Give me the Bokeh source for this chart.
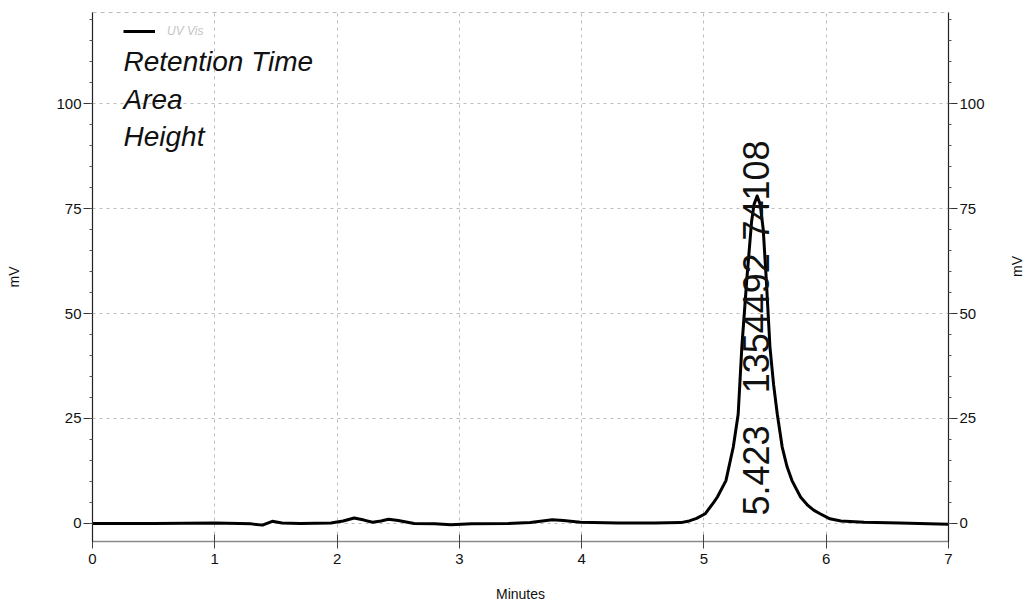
from bokeh.plotting import figure
from bokeh.models import (LinearAxis, FixedTicker, Range1d, Label, Legend, LegendItem,
                          ColumnDataSource)
from bokeh.embed import file_html
from bokeh.resources import INLINE
from bokeh.core.properties import value
import numpy as np

# ---- data ----
time_min = [0.00, 0.50, 1.00, 1.30, 1.39, 1.47, 1.55, 1.70, 1.95, 2.05, 2.14, 2.22,
            2.29, 2.36, 2.42, 2.50, 2.63, 2.80, 2.93, 3.10, 3.40, 3.58, 3.68, 3.76,
            3.85, 3.99, 4.30, 4.60, 4.81, 4.88, 4.94, 5.01, 5.08, 5.11, 5.18, 5.24,
            5.28, 5.31, 5.35, 5.39, 5.41, 5.435, 5.46, 5.485, 5.51, 5.54, 5.57, 5.60,
            5.64, 5.68, 5.72, 5.79, 5.85, 5.90, 5.95, 6.03, 6.12, 6.31, 6.60, 7.00]
signal_mv = [0.0, 0.0, 0.1, -0.1, -0.4, 0.5, 0.1, 0.0, 0.1, 0.6, 1.3, 0.8,
             0.3, 0.6, 1.0, 0.7, 0.0, -0.1, -0.3, -0.1, 0.0, 0.2, 0.6, 0.9,
             0.7, 0.3, 0.1, 0.1, 0.2, 0.6, 1.2, 2.3, 5.0, 6.3, 10.2, 18.2,
             26.0, 42.0, 57.9, 72.0, 76.0, 78.0, 76.0, 70.0, 58.0, 42.0, 33.0, 26.0,
             18.2, 13.5, 10.2, 6.3, 4.3, 3.1, 2.3, 1.1, 0.6, 0.3, 0.1, -0.2]

series_name = "UV Vis"
x_ticks = [0, 1, 2, 3, 4, 5, 6, 7]
y_ticks = [0, 25, 50, 75, 100]
y_minor = [-5, 0, 5, 10, 15, 20, 25, 30, 35, 40, 45, 50, 55, 60, 65, 70, 75, 80,
           85, 90, 95, 100, 105, 110, 115, 120]
info_lines = ["Retention Time", "Area", "Height"]
peak_rt = [5.423]
peak_texts = ["5.423", "1354492", "74108"]
peak_text_y = [1.9, 31.0, 67.4]
x_title = "Minutes"
y_title = "mV"

FONT = "Liberation Sans"

p = figure(width=1036, height=606, output_backend="svg", toolbar_location=None,
           x_range=Range1d(0, 7), y_range=Range1d(-4.3, 121.7),
           min_border_left=92, min_border_right=88, min_border_top=12,
           min_border_bottom=65, background_fill_color="white",
           border_fill_color="white")
p.outline_line_color = "#bbbbbb"
p.outline_line_dash = "4 4"
p.outline_line_width = 1

# grid
p.xgrid.ticker = FixedTicker(ticks=x_ticks)
p.ygrid.ticker = FixedTicker(ticks=y_ticks)
for g in (p.xgrid, p.ygrid):
    g.grid_line_color = "#bdbdbd"
    g.grid_line_dash = "3 4"
    g.grid_line_width = 1

# bottom axis
xa = p.xaxis[0]
xa.ticker = FixedTicker(ticks=x_ticks)
xa.axis_label = x_title
xa.axis_line_color = "#8a8a8a"
xa.axis_line_width = 1.5
xa.major_tick_in = 7
xa.major_tick_out = 7
xa.major_tick_line_color = "#444444"
xa.minor_tick_line_color = None
xa.major_label_standoff = 5
xa.major_label_text_font = FONT
xa.major_label_text_font_size = "15px"
xa.major_label_text_color = "#111111"
xa.axis_label_text_font = FONT
xa.axis_label_text_font_size = "14px"
xa.axis_label_text_font_style = "normal"
xa.axis_label_text_color = "#111111"
xa.axis_label_standoff = 19

def style_y(ax, label, standoff):
    ax.ticker = FixedTicker(ticks=y_ticks, minor_ticks=y_minor)
    ax.axis_label = label
    ax.axis_line_color = "#222222"
    ax.axis_line_width = 1.2
    ax.major_tick_in = 0
    ax.major_tick_out = 9
    ax.minor_tick_in = 0
    ax.minor_tick_out = 3
    ax.major_tick_line_color = "#333333"
    ax.minor_tick_line_color = "#555555"
    ax.major_label_standoff = 2
    ax.major_label_text_font = FONT
    ax.major_label_text_font_size = "15px"
    ax.major_label_text_color = "#111111"
    ax.axis_label_text_font = FONT
    ax.axis_label_text_font_size = "14px"
    ax.axis_label_text_font_style = "normal"
    ax.axis_label_text_color = "#111111"
    ax.axis_label_standoff = standoff

style_y(p.yaxis[0], y_title, 31)
ra = LinearAxis()
style_y(ra, y_title, 29)
if hasattr(ra, "axis_label_orientation"):
    ra.axis_label_orientation = np.pi / 2   # read bottom-to-top, like the left title
p.add_layout(ra, "right")

# trace
src = ColumnDataSource(dict(t=time_min, v=signal_mv))
trace = p.line("t", "v", source=src, line_color="black", line_width=3,
               line_join="round")

# legend
leg = Legend(items=[LegendItem(label=series_name, renderers=[trace])],
             location=(31, 503), background_fill_alpha=0, border_line_color=None,
             padding=0, margin=0, glyph_width=32, glyph_height=12,
             label_standoff=12, label_text_font=FONT, label_text_font_size="12px",
             label_text_color="#c4c4c4", label_text_font_style="italic")
p.add_layout(leg)

# info text block (top left)
for i, txt in enumerate(info_lines):
    p.add_layout(Label(x=31, y=480 - i * 37.5, x_units="screen", y_units="screen",
                       text=txt, text_font=FONT, text_font_size="28px",
                       text_font_style="italic", text_color="#111111",
                       text_baseline="alphabetic", text_align="left"))

# peak annotation (rotated)
psrc = ColumnDataSource(dict(x=peak_rt * len(peak_texts), y=peak_text_y, txt=peak_texts))
p.text("x", "y", text="txt", source=psrc, angle=np.pi / 2, text_align="left",
       text_baseline="middle", text_font=value(FONT),
       text_font_size="36px", text_color="#111111")

open("out.html", "w").write(file_html(p, INLINE))
